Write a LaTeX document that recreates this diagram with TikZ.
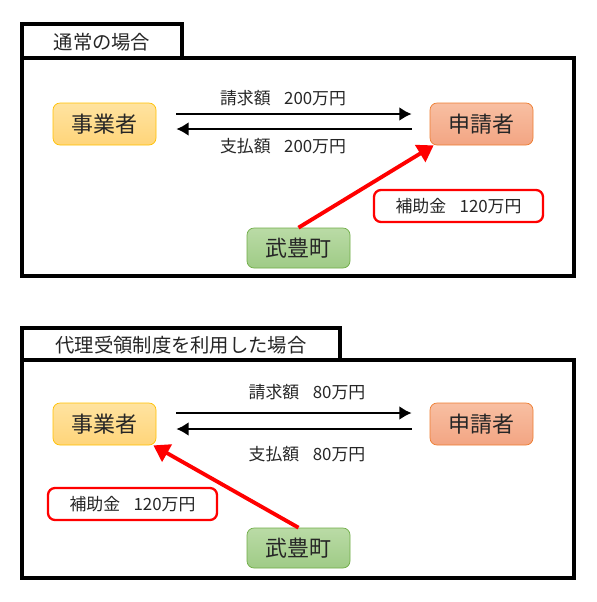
\documentclass[tikz,border=0pt]{standalone}
\usepackage{fontspec}
\setmainfont{Noto Sans CJK JP}
\usetikzlibrary{arrows.meta}
\definecolor{vendortop}{HTML}{FFE3A0}
\definecolor{vendorbot}{HTML}{FFD57A}
\definecolor{vendorline}{HTML}{FFC000}
\definecolor{applicanttop}{HTML}{F8BFA2}
\definecolor{applicantbot}{HTML}{F3A583}
\definecolor{applicantline}{HTML}{ED7D31}
\definecolor{towntop}{HTML}{BADBA6}
\definecolor{townbot}{HTML}{9FCB86}
\definecolor{townline}{HTML}{70AD47}
\begin{document}
\begin{tikzpicture}[x=0.02cm, y=-0.02cm,
  every node/.style={font=\fontsize{9.6}{11}\selectfont, text=black!85},
  frame/.style={line width=2pt},
  party/.style={draw, rounded corners=4pt, minimum width=103*0.02cm, minimum height=42*0.02cm, font=\fontsize{12.5}{13}\selectfont},
  vendor/.style={party, draw=vendorline, top color=vendortop, bottom color=vendorbot},
  applicant/.style={party, draw=applicantline, top color=applicanttop, bottom color=applicantbot},
  town/.style={party, minimum height=40*0.02cm, draw=townline, top color=towntop, bottom color=townbot},
  grant/.style={draw=red, line width=1.3pt, rounded corners=4pt, fill=white, minimum width=169*0.02cm, minimum height=32*0.02cm},
  flow/.style={line width=1.6pt, -{Latex[length=7pt, width=8pt]}},
  subsidy/.style={draw=red, line width=2.2pt, -{Triangle[length=9pt, width=11pt]}}]
  \useasboundingbox (0,0) rectangle (596,602);
  % Case 1
  \draw[frame] (22,58) rectangle (574,276);
  \draw[frame, fill=white] (22,24) rectangle (182,58);
  \node[font=\fontsize{11}{12}\selectfont] (title1) at (102,42) {通常の場合};
  \node[vendor] (vendor1) at (104.5,124) {事業者};
  \node[applicant] (applicant1) at (481.5,124) {申請者};
  \node[town] (town1) at (298.5,248) {武豊町};
  \node[grant] (grant1) at (458.5,206) {補助金\hspace{0.8em}120万円};
  \draw[flow] ([xshift=0.4cm, yshift=0.2cm]vendor1.east) -- ([xshift=-0.36cm, yshift=0.2cm]applicant1.west);
  \draw[flow] ([xshift=-0.36cm, yshift=-0.1cm]applicant1.west) -- ([xshift=0.4cm, yshift=-0.1cm]vendor1.east);
  \node (bill1) at (283,98) {請求額\hspace{0.8em}200万円};
  \node (pay1) at (283,146) {支払額\hspace{0.8em}200万円};
  \draw[subsidy] (town1.north) -- ([xshift=0.08cm]applicant1.south west);
  % Case 2
  \draw[frame] (22,360) rectangle (574,578);
  \draw[frame, fill=white] (22,328) rectangle (340,360);
  \node[font=\fontsize{11}{12}\selectfont] (title2) at (181,345) {代理受領制度を利用した場合};
  \node[vendor] (vendor2) at (104.5,424) {事業者};
  \node[applicant] (applicant2) at (481.5,424) {申請者};
  \node[town] (town2) at (298.5,548) {武豊町};
  \node[grant] (grant2) at (132.5,504) {補助金\hspace{0.8em}120万円};
  \draw[flow] ([xshift=0.4cm, yshift=0.22cm]vendor2.east) -- ([xshift=-0.36cm, yshift=0.22cm]applicant2.west);
  \draw[flow] ([xshift=-0.36cm, yshift=-0.1cm]applicant2.west) -- ([xshift=0.4cm, yshift=-0.1cm]vendor2.east);
  \node (bill2) at (307,392) {請求額\hspace{0.8em}80万円};
  \node (pay2) at (307,454) {支払額\hspace{0.8em}80万円};
  \draw[subsidy] (town2.north) -- ([xshift=-0.06cm]vendor2.south east);
\end{tikzpicture}
\end{document}
